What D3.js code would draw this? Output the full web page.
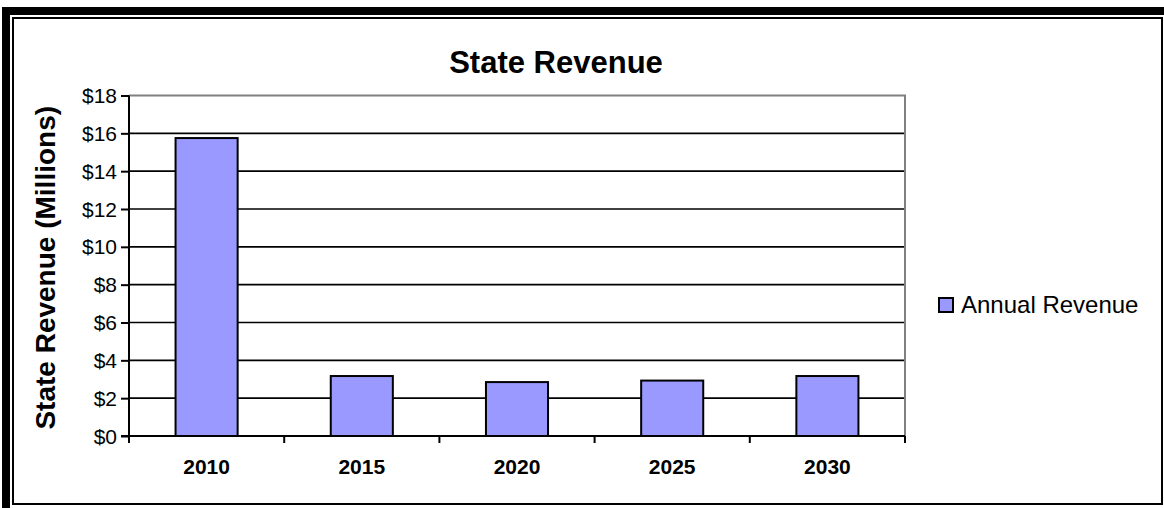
<!DOCTYPE html>
<html>
<head>
<meta charset="utf-8">
<script src="https://cdn.jsdelivr.net/npm/d3@7"></script>
<style>
  html, body { margin: 0; padding: 0; background: #fff; }
  svg { display: block; }
  text { font-family: "Liberation Sans", Arial, sans-serif; fill: #000; }
</style>
</head>
<body>
<svg id="chart" width="1164" height="508"></svg>
<script>
// Annual state revenue, in millions of dollars
const years = ["2010", "2015", "2020", "2025", "2030"];
const revenue = [15.75, 3.17, 2.85, 2.93, 3.17];
const yTicks = [0, 2, 4, 6, 8, 10, 12, 14, 16, 18];
const seriesName = "Annual Revenue";

const svg = d3.select("#chart");
const W = 1164, H = 508;

// Frame: heavy band along top and left, thin rule around the chart area
svg.append("rect").attr("x", 2).attr("y", 7).attr("width", W - 2).attr("height", 8).attr("fill", "#000");
svg.append("rect").attr("x", 2).attr("y", 7).attr("width", 8).attr("height", H - 7).attr("fill", "#000");
svg.append("rect").attr("x", 13).attr("y", 18).attr("width", 1149).attr("height", 486)
  .attr("fill", "#fff").attr("stroke", "#000").attr("stroke-width", 2);

const plot = { left: 129, right: 905, top: 95.5, bottom: 436 };

const x = d3.scaleBand().domain(years).range([plot.left, plot.right]).paddingInner(0).paddingOuter(0);
const y = d3.scaleLinear().domain([0, 18]).range([plot.bottom, plot.top]);

// Horizontal gridlines
svg.append("g").selectAll("line").data(yTicks.filter(d => d > 0 && d < 18)).join("line")
  .attr("x1", plot.left).attr("x2", plot.right)
  .attr("y1", d => y(d)).attr("y2", d => y(d))
  .attr("stroke", "#000").attr("stroke-width", 1.6);

// Plot area border (top and right in grey)
svg.append("path")
  .attr("d", `M${plot.left},${y(18)}H${plot.right}V${plot.bottom}`)
  .attr("fill", "none").attr("stroke", "#808080").attr("stroke-width", 2);

// Bars: each bar is 40% of its category band (gap width 150%)
const barW = x.bandwidth() / 2.5;
svg.append("g").selectAll("rect").data(years).join("rect")
  .attr("x", (d) => x(d) + (x.bandwidth() - barW) / 2)
  .attr("y", (d, i) => y(revenue[i]))
  .attr("width", barW)
  .attr("height", (d, i) => y(0) - y(revenue[i]))
  .attr("fill", "#9999FF").attr("stroke", "#000").attr("stroke-width", 2);

// Y axis
const yAxis = d3.axisLeft(y).tickValues(yTicks).tickFormat(d => "$" + d).tickSize(8).tickPadding(4);
const gy = svg.append("g").attr("transform", `translate(${plot.left},0)`).call(yAxis);
gy.select(".domain").attr("stroke", "#000").attr("stroke-width", 2).attr("d", `M0,${y(18)}V${y(0)}`);
gy.selectAll(".tick line").attr("stroke", "#000").attr("stroke-width", 2);
gy.selectAll(".tick text").attr("font-size", 21).attr("dy", "0.34em")
  .attr("font-family", "Liberation Sans, Arial, sans-serif");

// X axis with tick marks on category boundaries
const gx = svg.append("g").attr("transform", `translate(0,${plot.bottom})`);
gx.append("line").attr("x1", plot.left - 8).attr("x2", plot.right).attr("y1", 0).attr("y2", 0)
  .attr("stroke", "#000").attr("stroke-width", 2);
const bounds = years.map(d => x(d)).concat([plot.right]);
gx.selectAll("line.tk").data(bounds).join("line").attr("class", "tk")
  .attr("x1", d => d).attr("x2", d => d).attr("y1", 0).attr("y2", 7)
  .attr("stroke", "#000").attr("stroke-width", 2);
gx.selectAll("text").data(years).join("text")
  .attr("x", d => x(d) + x.bandwidth() / 2).attr("y", 38)
  .attr("text-anchor", "middle").attr("font-size", 21).attr("font-weight", "bold")
  .text(d => d);

// Title
svg.append("text").attr("x", 556).attr("y", 73)
  .attr("text-anchor", "middle").attr("font-size", 31).attr("font-weight", "bold")
  .text("State Revenue");

// Y axis title
svg.append("text")
  .attr("transform", `translate(55,${(plot.top + plot.bottom) / 2 + 2}) rotate(-90)`)
  .attr("text-anchor", "middle").attr("font-size", 28).attr("font-weight", "bold")
  .text("State Revenue (Millions)");

// Legend
const lg = svg.append("g").attr("transform", "translate(939,298)");
lg.append("rect").attr("x", 0).attr("y", 0).attr("width", 14).attr("height", 14)
  .attr("fill", "#9999FF").attr("stroke", "#000").attr("stroke-width", 2);
lg.append("text").attr("x", 22).attr("y", 15).attr("font-size", 24).text(seriesName);
</script>
</body>
</html>
